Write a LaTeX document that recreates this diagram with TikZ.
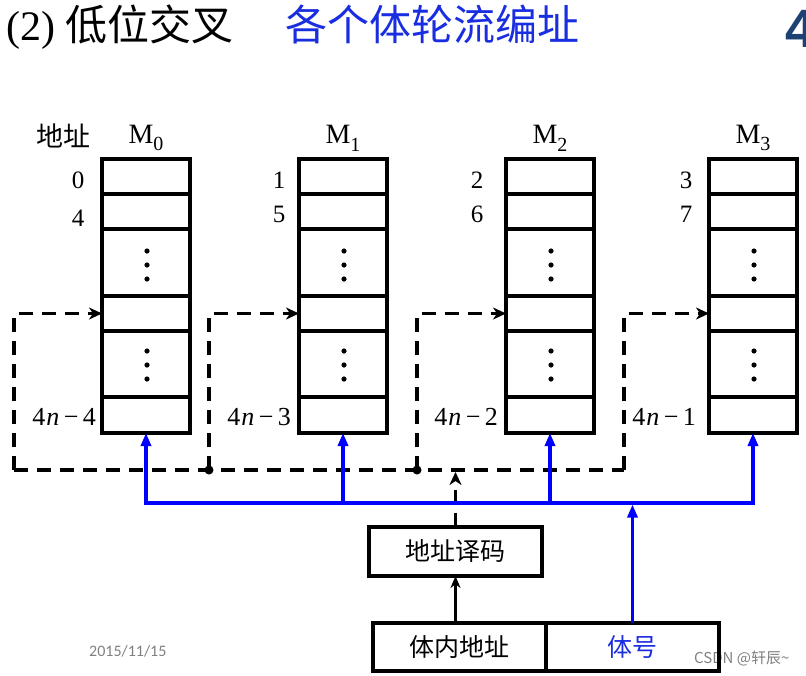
\documentclass[tikz,border=0pt]{standalone}
\usepackage{fontspec}
\setmainfont{Liberation Serif}
\newfontfamily\cjk{Noto Sans CJK SC}
\newfontfamily\footfont{Carlito}
\newfontfamily\sansf{Liberation Sans}
\usetikzlibrary{arrows.meta}
\definecolor{lineblue}{RGB}{0,0,255}
\definecolor{textblue}{RGB}{25,45,225}
\definecolor{navy}{RGB}{30,65,115}
\definecolor{footgray}{RGB}{128,128,128}
\begin{document}
\begin{tikzpicture}[x=1pt,y=-1pt,
  bankbox/.style={draw,line width=3.6pt,minimum width=88pt,minimum height=274pt,inner sep=0pt,outer sep=0pt},
  sepline/.style={line width=3.6pt},
  dsh/.style={line width=3.4pt,dash pattern=on 14pt off 9pt},
  dtip/.style={-{Stealth[length=13pt,width=12pt,inset=4pt]}},
  bl/.style={line width=3.4pt,draw=lineblue},
  btip/.style={-{Triangle[length=13pt,width=10pt]}},
  regbox/.style={draw,line width=3.6pt,minimum width=173pt,minimum height=48pt,inner sep=0pt,outer sep=0pt,font=\cjk\fontsize{25}{25}\selectfont},
  lab/.style={inner sep=0pt,font=\fontsize{25}{25}\selectfont},
  nlab/.style={inner sep=0pt,anchor=east,font=\fontsize{26}{26}\selectfont},
  mlab/.style={inner sep=0pt,font=\fontsize{28}{28}\selectfont},
  title/.style={inner sep=0pt,anchor=base west,font=\fontsize{42}{42}\selectfont}
]
\useasboundingbox (0,0) rectangle (806,675);

% title
\node[title] (t1) at (6,40) {(2) \cjk 低位交叉};
\node[title,text=textblue] (t2) at (285,40) {\cjk 各个体轮流编址};
\begin{scope}
\clip (0,0) rectangle (806,675);
\node[inner sep=0pt,anchor=west,text=navy,font=\sansf\bfseries\fontsize{54}{54}\selectfont] (pg) at (785,29) {4};
\end{scope}

% memory banks
\foreach \n/\x in {0/146,1/343,2/550,3/753}{
  \node[bankbox] (m\n) at (\x,296) {};
  \foreach \yy in {194,229,296,331,397}
    \draw[sepline] (m\n.west |- 0,\yy) -- (m\n.east |- 0,\yy);
  \foreach \yy in {251,265,279,351,365,379}
    \fill (\x+1,\yy) circle (2.6pt);
  \node[mlab] (ml\n) at (\x,138) {M\raisebox{-0.28em}{\fontsize{20}{20}\selectfont\n}};
}
\node[lab,font=\cjk\fontsize{27}{27}\selectfont] (addr) at (63,136) {地址};

% address numbers
\node[lab] (a0) at (78,180) {0};
\node[lab] (a4) at (78,218) {4};
\node[lab] (a1) at (279,180) {1};
\node[lab] (a5) at (279,214) {5};
\node[lab] (a2) at (477,180) {2};
\node[lab] (a6) at (477,214) {6};
\node[lab] (a3) at (686,180) {3};
\node[lab] (a7) at (686,214) {7};
\node[nlab] (e0) at (96,417) {4\kern1pt\textit{n}\,−\,4};
\node[nlab] (e1) at (291,417) {4\kern1pt\textit{n}\,−\,3};
\node[nlab] (e2) at (498,417) {4\kern1pt\textit{n}\,−\,2};
\node[nlab] (e3) at (696,417) {4\kern1pt\textit{n}\,−\,1};

% watermark (under the register box)
\node[inner sep=0pt,anchor=west,text=footgray,font=\cjk\fontsize{15}{15}\selectfont] (wm) at (694,658) {CSDN @轩辰\textasciitilde};
\node[inner sep=0pt,anchor=west,text=footgray,font=\footfont\fontsize{16}{16}\selectfont] (date) at (89,651) {2015/11/15};

% decoder and register
\node[regbox,minimum height=49pt] (dec) at (455.5,551.5) {地址译码};
\node[regbox] (r1) at (459.5,647) {体内地址};
\node[regbox,text=textblue] (r2) at (632.5,647) {体号};

% dashed cyclic lines
\coordinate (j0) at (14,470);
\coordinate (j1) at (209,470);
\coordinate (j2) at (417,470);
\coordinate (j3) at (624,470);
\draw[dsh] (j0) -- (j3);
\foreach \n in {0,1,2,3}
  \draw[dsh,dtip] (j\n) |- (m\n.west |- 0,313.5);
\fill (j1) circle (4.5pt);
\fill (j2) circle (4.5pt);
\draw[dsh,dtip] (dec.north) -- (dec.north |- 0,472);

% blue bus
\foreach \n in {0,1,2,3}
  \coordinate (b\n) at (m\n.south |- 0,503);
\draw[bl,line cap=rect] (b0) -- (b3);
\foreach \n in {0,1,2,3}
  \draw[bl,btip] (b\n) -- (m\n.south);
\draw[bl,btip] (r2.north) -- (r2.north |- 0,504.5);

% black arrow
\draw[line width=3.4pt,-{Stealth[length=12pt,width=10pt]}] (dec.south |- r1.north) -- (dec.south);
\end{tikzpicture}
\end{document}
